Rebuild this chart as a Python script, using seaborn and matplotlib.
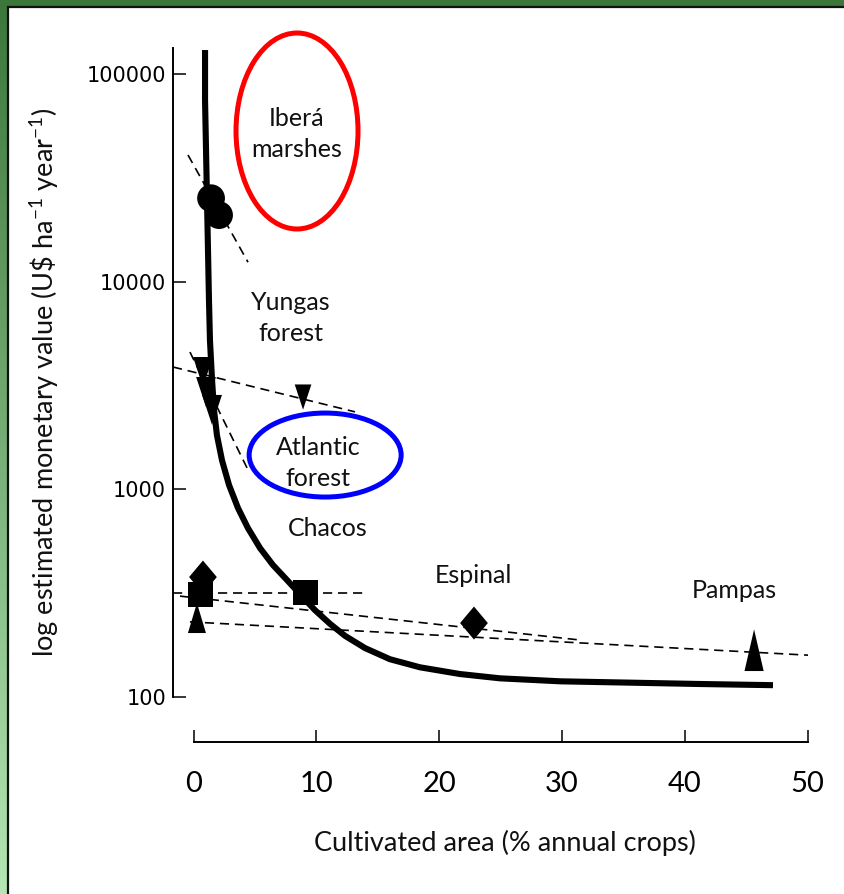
import numpy as np
import pandas as pd
import matplotlib
matplotlib.use("Agg")
import matplotlib.pyplot as plt
from matplotlib.patches import Ellipse, Rectangle
from matplotlib.transforms import IdentityTransform
from matplotlib.colors import LinearSegmentedColormap
import seaborn as sns

# ---------------- data ----------------
curve_x = [0.94, 0.94, 1.02, 1.10, 1.18, 1.26, 1.34, 1.51, 1.67, 1.91, 2.32, 2.89, 3.62, 4.43,
           5.42, 6.47, 7.61, 8.67, 9.89, 11.12, 12.34, 13.97, 16.0, 18.44, 21.7, 24.96,
           29.85, 36.36, 41.25, 47.19]
curve_y = [130300, 74800, 43000, 24700, 14200, 8150, 5230, 3360, 2410, 1820, 1380, 1050, 813, 651,
           521, 432, 366, 313, 262, 225, 197, 172, 152, 139, 129, 123,
           119, 117, 115.5, 114]

ibera_x = [1.43, 2.08]
ibera_y = [25200, 20900]
yungas_x = [0.77, 8.92]
yungas_y = [3670, 2780]
atlantic_x = [1.02, 1.51]
atlantic_y = [2940, 2410]
chacos_x = [0.53, 9.08]
chacos_y = [313, 317]
espinal_x = [0.77, 22.84]
espinal_y = [378, 227]
pampas_x = [0.28, 45.65]
pampas_y = [240, 168]

# dashed fitted lines (start, end)
fit_ibera = ([-0.45, 4.44], [40700, 12400])
fit_yungas = ([-1.67, 13.15], [3880, 2360])
fit_atlantic = ([-0.29, 4.44], [4580, 1240])
fit_chacos = ([-1.67, 13.97], [317, 317])
fit_espinal = ([-1.1, 31.5], [306, 188])
fit_pampas = ([-0.29, 50.04], [230, 159])

x_ticks = [0, 10, 20, 30, 40, 50]
y_ticks = [100, 1000, 10000, 100000]
y_ticklabels = ["100", "1000", "10000", "100000"]

region_labels = ["Iberá\nmarshes", "Yungas\nforest", "Atlantic\nforest", "Chacos", "Espinal", "Pampas"]
region_lx = [8.43, 7.94, 10.14, 10.95, 22.76, 44.0]
region_ly = [51400, 6680, 1340, 644, 383, 327]

# highlight ellipses: centre (data), width/height (pixels), colour
ellipse_cx = [8.43, 10.72]
ellipse_cy = [53100, 1462]
ellipse_w = [122, 152]
ellipse_h = [196, 84]
ellipse_col = ["#ff0000", "#0000ff"]

# ---------------- style ----------------
sns.set_theme(style="white")
plt.rcParams["font.family"] = ["Lato", "DejaVu Sans"]
plt.rcParams["mathtext.fontset"] = "custom"
plt.rcParams["mathtext.rm"] = "Lato"
plt.rcParams["mathtext.it"] = "Lato:italic"
plt.rcParams["mathtext.bf"] = "Lato:bold"

W, H = 844, 894
fig = plt.figure(figsize=(W / 100, H / 100), dpi=100)
fig.patch.set_facecolor("white")

# background frame (green gradient strip + dark border)
bg = fig.add_axes([0, 0, 1, 1], zorder=-5)
grad = np.linspace(0, 1, 256).reshape(-1, 1)
cmap = LinearSegmentedColormap.from_list("g", ["#3b773b", "#b3e6b3"])
bg.imshow(grad, extent=[0, 1, 0, 1], aspect="auto", cmap=cmap, origin="upper")
bg.set_xlim(0, 1)
bg.set_ylim(0, 1)
bg.axis("off")
bg.add_patch(Rectangle((7.5 / W, -0.1), 1.2, (H - 6.5) / H + 0.1, facecolor="white",
                       edgecolor="#111111", linewidth=1.6, transform=bg.transAxes))

# axes geometry in pixels
left_px, right_px, top_px, bot_px = 173, 830, 44, 742
x0_px, px_per_unit = 193.5, 12.28
y100_px, px_per_dec = 697, 207.7
xlim = ((left_px - x0_px) / px_per_unit, (right_px - x0_px) / px_per_unit)
ylim = (10 ** (2 - (bot_px - y100_px) / px_per_dec), 10 ** (2 + (y100_px - top_px) / px_per_dec))

ax = fig.add_axes([left_px / W, (H - bot_px) / H, (right_px - left_px) / W, (bot_px - top_px) / H])
ax.set_facecolor("none")
ax.set_yscale("log")
ax.set_xlim(*xlim)
ax.set_ylim(*ylim)

# fitted dashed lines
for fx, fy in [fit_ibera, fit_yungas, fit_atlantic, fit_chacos, fit_espinal, fit_pampas]:
    sns.lineplot(x=fx, y=fy, ax=ax, color="black", lw=1.2, linestyle=(0, (5.5, 3.5)),
                 sort=False, estimator=None)

# main curve
sns.lineplot(x=curve_x, y=curve_y, ax=ax, color="black", lw=4.4, sort=False,
             estimator=None, solid_capstyle="butt", solid_joinstyle="round")

# markers
tri_down = [(-0.33, 0.5), (0.33, 0.5), (0, -0.5)]
tri_up = [(-0.3, -0.5), (0.3, -0.5), (0, 0.5)]
tri_up_tall = [(-0.23, -0.5), (0.23, -0.5), (0, 0.5)]
diamond = [(0, 0.5), (0.42, 0), (0, -0.5), (-0.42, 0)]

kw = dict(ax=ax, color="black", edgecolor="none", linewidth=0, legend=False, zorder=4)
sns.scatterplot(x=ibera_x, y=ibera_y, marker="o", s=400, **kw)
sns.scatterplot(x=yungas_x[:1], y=yungas_y[:1], marker=tri_down, s=467, **kw)
sns.scatterplot(x=yungas_x[1:], y=yungas_y[1:], marker=tri_down, s=330, **kw)
sns.scatterplot(x=atlantic_x, y=atlantic_y, marker=tri_down, s=467, **kw)
sns.scatterplot(x=espinal_x, y=espinal_y, marker=diamond, s=566, **kw)
sns.scatterplot(x=chacos_x, y=chacos_y, marker="s", s=324, **kw)
sns.scatterplot(x=pampas_x[:1], y=pampas_y[:1], marker=tri_up, s=467, **kw)
sns.scatterplot(x=pampas_x[1:], y=pampas_y[1:], marker=tri_up_tall, s=900, **kw)

# region labels
for lab, lx, ly in zip(region_labels, region_lx, region_ly):
    ax.text(lx, ly, lab, ha="center", va="center", fontsize=18, color="#111111",
            linespacing=1.4, zorder=5)

# ellipses (drawn in pixel space so they stay elliptical on the log axis)
fig.canvas.draw()
for cx, cy, w, h, col in zip(ellipse_cx, ellipse_cy, ellipse_w, ellipse_h, ellipse_col):
    dx, dy = ax.transData.transform((cx, cy))
    e = Ellipse((dx, dy), w, h, fill=False, edgecolor=col, lw=3.6,
                transform=IdentityTransform(), zorder=6)
    fig.add_artist(e)

# axes styling
for s in ["top", "right"]:
    ax.spines[s].set_visible(False)
for s in ["left", "bottom"]:
    ax.spines[s].set_color("black")
    ax.spines[s].set_linewidth(1.4)
ax.spines["left"].set_bounds(100, 133000)
ax.spines["bottom"].set_bounds(0, 50)

ax.set_xticks(x_ticks)
ax.set_xticklabels([str(t) for t in x_ticks])
ax.set_yticks(y_ticks)
ax.set_yticklabels(y_ticklabels, fontfamily=["DejaVu Sans"])
ax.minorticks_off()
ax.tick_params(axis="x", direction="in", length=9, width=1.1, pad=21, labelsize=21,
               colors="black", bottom=True)
ax.tick_params(axis="y", direction="in", length=9, width=1.1, pad=5, labelsize=15,
               colors="black", left=True)

ax.set_xlabel("Cultivated area (% annual crops)", fontsize=19.5, color="#111111")
ax.xaxis.set_label_coords((505 - left_px) / (right_px - left_px), (bot_px - 843) / (bot_px - top_px))
ax.xaxis.label.set_va("center")
ax.set_ylabel("log estimated monetary value (U\\$ ha$^{-1}$ year$^{-1}$)", fontsize=19.5, color="#111111")
ax.yaxis.set_label_coords((45 - left_px) / (right_px - left_px), (bot_px - 382) / (bot_px - top_px))
ax.yaxis.label.set_va("center")

fig.savefig("out.png", dpi=100)
